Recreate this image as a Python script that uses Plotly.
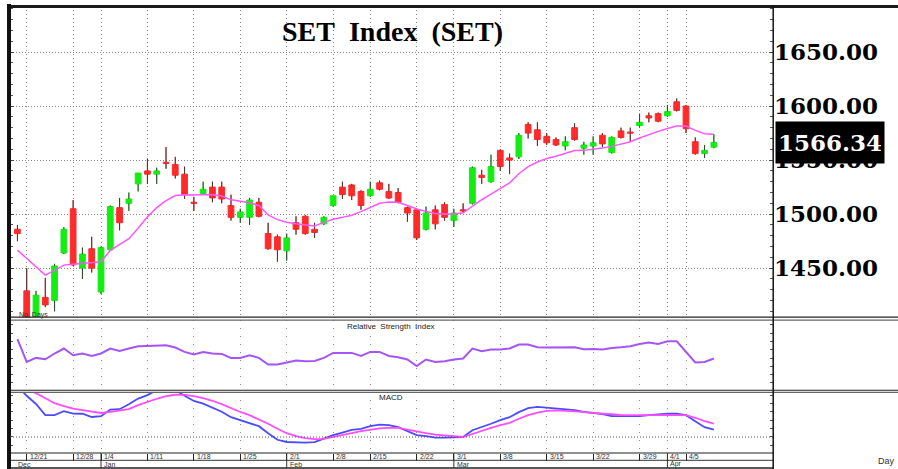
import plotly.graph_objects as go

# ---------------- data ----------------
dates = ["12/18", "12/21", "12/22", "12/23", "12/24", "12/25", "12/28", "12/29", "12/30",
         "1/4", "1/5", "1/6", "1/7", "1/8", "1/11", "1/12", "1/13", "1/14", "1/15",
         "1/18", "1/19", "1/20", "1/21", "1/22", "1/25", "1/26", "1/27", "1/28", "1/29",
         "2/1", "2/2", "2/3", "2/4", "2/5", "2/8", "2/9", "2/10", "2/11",
         "2/15", "2/16", "2/17", "2/18", "2/19", "2/22", "2/23", "2/24", "2/25",
         "3/1", "3/2", "3/3", "3/4", "3/5", "3/8", "3/9", "3/10", "3/11", "3/12",
         "3/15", "3/16", "3/17", "3/18", "3/19", "3/22", "3/23", "3/24", "3/25", "3/26",
         "3/29", "3/30", "3/31", "4/1", "4/2", "4/5", "4/7", "4/8", "4/9"]

open_ = [1486, 1429, 1405, 1423, 1420, 1464, 1505, 1450, 1468,
         1428, 1467, 1506, 1510, 1528, 1540, 1537, 1548, 1546, 1537,
         1511, 1519, 1525, 1525, 1508, 1497, 1497, 1511, 1482, 1479,
         1466, 1492, 1498, 1486, 1491, 1508, 1525, 1527, 1521,
         1517, 1529, 1521, 1520, 1506, 1504, 1486, 1504, 1509,
         1494, 1504, 1510, 1536, 1530, 1559, 1552, 1553, 1583, 1578,
         1572, 1569, 1563, 1580, 1561, 1563, 1573, 1557, 1577, 1576,
         1582, 1591, 1593, 1591, 1604, 1600, 1567, 1556, 1562]
high = [1490, 1450, 1429, 1441, 1454, 1488, 1513, 1469, 1479,
        1470, 1508, 1515, 1520, 1538, 1551, 1543, 1562, 1553, 1544,
        1516, 1530, 1530, 1530, 1518, 1505, 1515, 1515, 1492, 1481,
        1482, 1498, 1499, 1492, 1498, 1517, 1530, 1528, 1522,
        1530, 1531, 1528, 1524, 1507, 1505, 1507, 1508, 1511,
        1505, 1510, 1544, 1541, 1555, 1560, 1556, 1575, 1585, 1585,
        1575, 1571, 1572, 1584, 1567, 1572, 1575, 1572, 1580, 1580,
        1593, 1594, 1594, 1601, 1607, 1601, 1571, 1564, 1574]
low = [1475, 1400, 1402, 1414, 1410, 1463, 1452, 1440, 1446,
       1426, 1466, 1485, 1503, 1521, 1528, 1528, 1542, 1533, 1514,
       1503, 1518, 1511, 1510, 1494, 1492, 1490, 1497, 1467, 1456,
       1457, 1481, 1481, 1478, 1490, 1507, 1514, 1513, 1504,
       1516, 1522, 1514, 1510, 1493, 1476, 1485, 1486, 1494,
       1488, 1501, 1509, 1528, 1529, 1540, 1537, 1551, 1570, 1563,
       1564, 1563, 1559, 1568, 1555, 1555, 1562, 1556, 1570, 1567,
       1580, 1585, 1585, 1590, 1595, 1575, 1555, 1552, 1561]
close = [1482, 1404, 1425, 1416, 1452, 1486, 1453, 1463, 1450,
         1469, 1507, 1492, 1514, 1538, 1537, 1540, 1547, 1536, 1518,
         1510, 1523, 1515, 1514, 1497, 1502, 1513, 1498, 1468, 1467,
         1478, 1486, 1482, 1483, 1497, 1517, 1518, 1517, 1508,
         1523, 1523, 1515, 1511, 1501, 1478, 1501, 1491, 1497,
         1501, 1503, 1543, 1534, 1544, 1544, 1550, 1573, 1575, 1569,
         1566, 1564, 1567, 1569, 1564, 1566, 1565, 1571, 1571, 1575,
         1585, 1589, 1586, 1595, 1596, 1579, 1556, 1559, 1566.34]

ma = [1466.7, 1458.8, 1451.0, 1443.5, 1448.0, 1452.8, 1453.5, 1454.2, 1455.0,
      1456.0, 1466.5, 1471.7, 1477.2, 1487.0, 1497.6, 1506.0, 1512.5, 1517.2, 1518.0,
      1517.6, 1518.2, 1518.0, 1516.7, 1513.2, 1512.0, 1510.5, 1508.0, 1499.2, 1494.9,
      1492.5, 1491.0, 1489.8, 1489.0, 1492.4, 1495.3, 1497.0, 1499.0, 1502.3,
      1506.3, 1510.0, 1511.2, 1511.0, 1508.0, 1504.7, 1502.5, 1500.5, 1500.2,
      1500.2, 1501.2, 1507.5, 1513.3, 1518.6, 1523.8, 1529.0, 1537.4, 1544.0, 1548.2,
      1551.5, 1553.6, 1556.2, 1558.8, 1559.0, 1559.8, 1561.2, 1562.7, 1564.7, 1567.0,
      1570.5, 1573.7, 1576.6, 1579.3, 1581.6, 1581.6, 1577.5, 1574.4, 1573.8]

rsi = [72.2, 40.7, 46.3, 44.4, 52.4, 59.3, 50.0, 52.4, 49.0,
       52.4, 59.3, 56.0, 59.3, 62.5, 62.9, 62.9, 63.9, 60.7, 54.6,
       51.0, 54.6, 52.4, 51.8, 46.3, 46.3, 50.0, 46.3, 37.1, 37.1,
       39.9, 42.6, 41.7, 42.1, 46.3, 53.2, 53.2, 53.2, 49.0,
       54.6, 54.6, 49.0, 47.2, 44.0, 35.1, 44.0, 40.7, 41.7,
       44.0, 45.4, 59.3, 55.6, 57.9, 57.9, 59.3, 64.9, 64.9, 61.1,
       60.7, 60.7, 60.7, 61.1, 58.3, 58.8, 57.9, 60.1, 61.1, 62.5,
       65.7, 67.6, 65.7, 69.4, 69.4, 54.6, 39.9, 40.7, 45.4]

macd = [25.4, 20.6, 16.5, 10.9, 10.9, 12.9, 11.7, 11.6, 10.0,
        10.4, 13.7, 13.9, 16.4, 19.2, 20.9, 23.4, 24.4, 23.4, 20.6,
        18.0, 16.7, 14.7, 12.6, 9.9, 8.4, 7.1, 5.4, 1.9, -1.4,
        -2.5, -2.8, -2.8, -2.6, -0.9, 0.9, 2.2, 3.6, 4.1,
        5.4, 6.2, 5.9, 4.9, 3.1, 0.9, 0.4, -0.3, -0.3,
        -0.2, 0.0, 3.4, 4.9, 6.6, 8.4, 9.9, 12.4, 14.4, 15.0,
        14.6, 14.2, 13.7, 13.4, 12.6, 12.0, 11.4, 10.4, 10.4, 10.4,
        10.4, 10.9, 11.4, 11.7, 11.6, 10.9, 7.9, 4.9, 3.7]

signal = [26.0, 23.5, 21.9, 19.4, 16.9, 15.4, 14.2, 13.4, 12.6,
          12.0, 12.6, 13.2, 13.9, 15.9, 17.6, 19.1, 20.4, 21.1, 21.0,
          20.4, 19.4, 18.1, 16.4, 14.4, 12.5, 10.9, 8.9, 6.6, 4.1,
          1.9, 0.4, -0.6, -1.1, -0.9, 0.0, 1.1, 1.9, 2.9,
          3.6, 4.3, 4.6, 4.6, 3.7, 2.7, 1.9, 1.2, 0.8,
          0.4, 0.0, 1.5, 3.1, 4.6, 5.9, 7.1, 9.1, 10.9, 12.2,
          13.0, 13.3, 13.2, 12.8, 12.4, 12.0, 11.5, 11.1, 11.0, 10.9,
          10.9, 11.0, 11.1, 11.2, 11.0, 10.9, 9.6, 7.9, 6.7]

week_ticks = ["12/21", "12/28", "1/4", "1/11", "1/18", "1/25", "2/1", "2/8", "2/15",
              "2/22", "3/1", "3/8", "3/15", "3/22", "3/29", "4/1", "4/5"]
month_labels = ["Dec", "Jan", "Feb", "Mar", "Apr"]
month_starts = ["12/18", "1/4", "2/1", "3/1", "4/1"]
price_ticks = [1450, 1500, 1550, 1600, 1650]
last_price = close[-1]

# ---------------- layout helpers (pixel geometry) ----------------
W, H = 898, 469
L, R, T, B = 10, 773, 6, 452.7


def pxx(p):
    return (p - L) / (R - L)


def pyy(p):
    return (B - p) / (B - T)


xi = list(range(len(dates)))
week_x = [dates.index(d) for d in week_ticks]
month_x = [dates.index(d) for d in month_starts]

fig = go.Figure()

# candle bodies
fig.add_trace(go.Candlestick(
    x=xi, open=open_, high=high, low=low, close=close,
    xaxis="x2", yaxis="y",
    increasing=dict(fillcolor="#12ee12", line=dict(color="#12ee12", width=1)),
    decreasing=dict(fillcolor="#ff2a2a", line=dict(color="#ff2a2a", width=1)),
    whiskerwidth=0, hoverinfo="skip", showlegend=False))

# wicks (dark) built from the OHLC arrays
wx, wy = [], []
for i, (o, h, l, c) in enumerate(zip(open_, high, low, close)):
    lo, hi = min(o, c), max(o, c)
    wx += [i, i, None, i, i, None]
    wy += [l, lo, None, hi, h, None]
fig.add_trace(go.Scatter(x=wx, y=wy, xaxis="x2", yaxis="y", mode="lines",
                         line=dict(color="#3c3c3c", width=1), hoverinfo="skip",
                         showlegend=False))

fig.add_trace(go.Scatter(x=xi, y=ma, xaxis="x2", yaxis="y", mode="lines",
                         line=dict(color="#ff55ff", width=1.5), showlegend=False))

fig.add_trace(go.Scatter(x=xi, y=rsi, xaxis="x3", yaxis="y2", mode="lines",
                         line=dict(color="#a555f5", width=2), showlegend=False))

fig.add_trace(go.Scatter(x=xi, y=macd, xaxis="x", yaxis="y3", mode="lines",
                         line=dict(color="#4b4bff", width=1.8), showlegend=False))
fig.add_trace(go.Scatter(x=xi, y=signal, xaxis="x", yaxis="y3", mode="lines",
                         line=dict(color="#ff4dff", width=1.8), showlegend=False))

xr = [-0.8, (R - 17.4) / 9.286]

common_x = dict(range=xr, tickmode="array", tickvals=week_x, showticklabels=False,
                showgrid=True, gridcolor="#8a8a8a", gridwidth=1, zeroline=False,
                showline=False)

fig.update_layout(
    width=W, height=H,
    margin=dict(l=L, r=W - R, t=T, b=H - B, autoexpand=False),
    paper_bgcolor="white", plot_bgcolor="white",
    showlegend=False, boxgap=0.12,
    xaxis=dict(**common_x, anchor="y3", griddash="1px,7px",
               ticks="outside", ticklen=7, tickcolor="#222", tickwidth=1),
    xaxis2=dict(**common_x, anchor="y", matches="x", griddash="1px,3px",
                ticks="", rangeslider=dict(visible=False)),
    xaxis3=dict(**common_x, anchor="y2", matches="x", griddash="1px,7px", ticks=""),
    yaxis=dict(domain=[pyy(317), 1], range=[1404.6, 1692.6], side="right",
               anchor="x2", tickmode="array", tickvals=price_ticks,
               ticktext=[f"{v:.2f}" for v in price_ticks],
               tickfont=dict(family="DejaVu Serif", size=23, color="black",
                             weight="bold"),
               ticks="inside", ticklen=4, tickcolor="#444", mirror="ticks",
               showline=False, showgrid=True, gridcolor="#8a8a8a",
               griddash="1px,2px", zeroline=False,
               minor=dict(dtick=10, tick0=1400, ticks="inside", ticklen=3,
                          tickcolor="#555", showgrid=False)),
    yaxis2=dict(domain=[pyy(390), pyy(320)], range=[1.39, 98.6], anchor="x3",
                showticklabels=False, showgrid=False, zeroline=False,
                ticks="inside", ticklen=3, tickcolor="#555", tick0=0, dtick=11.5,
                mirror="ticks"),
    yaxis3=dict(domain=[0, pyy(392)], range=[-8, 22.35], anchor="x",
                showticklabels=False, showgrid=False, zeroline=False,
                tickmode="linear", tick0=0, dtick=4.17, ticks="inside",
                ticklen=3, tickcolor="#555", mirror="ticks"),
)

shapes = []


def hline(y, x0, x1, w=1, color="#111"):
    shapes.append(dict(type="line", xref="paper", yref="paper",
                       x0=pxx(x0), x1=pxx(x1), y0=pyy(y), y1=pyy(y),
                       line=dict(color=color, width=w)))


def vline(x, y0, y1, w=1, color="#111"):
    shapes.append(dict(type="line", xref="paper", yref="paper",
                       x0=pxx(x), x1=pxx(x), y0=pyy(y0), y1=pyy(y1),
                       line=dict(color=color, width=w)))


hline(6.5, 8, 898, 3, "#1a1a1a")
hline(317, 8, 898, 1.2, "#222")
hline(320, 8, 898, 1.2, "#666")
hline(390, 8, 898, 1.2, "#222")
hline(392.2, 8, 898, 1.2, "#666")
hline(452.7, 8, 773, 1.2, "#222")
hline(460, 8, 773, 1, "#333")
hline(467.6, 8, 773, 1.5, "#222")
vline(773.2, 5, 469, 1.5, "#111")
vline(9, 4, 469, 4, "#111")

# MACD zero line (dotted)
shapes.append(dict(type="line", xref="paper", yref="y3", x0=0, x1=1, y0=0, y1=0,
                   line=dict(color="#555", width=1, dash="1px,2px")))

# month separators in date band
for mx in month_x[1:]:
    shapes.append(dict(type="line", xref="x", yref="paper", x0=mx, x1=mx,
                       y0=pyy(452.7), y1=pyy(467.6),
                       line=dict(color="#333", width=1)))

annotations = []
small = dict(family="Liberation Sans", size=7, color="#333")
for lab, wxp in zip(week_ticks, week_x):
    annotations.append(dict(x=wxp, xref="x", y=pyy(456.5), yref="paper",
                            text=lab, showarrow=False, xanchor="left",
                            yanchor="middle", xshift=1, font=small))
for lab, mxp in zip(month_labels, month_x):
    annotations.append(dict(x=mxp, xref="x", y=pyy(464), yref="paper",
                            text=lab, showarrow=False, xanchor="left",
                            yanchor="middle", xshift=1 if lab != "Dec" else -1,
                            font=small))

annotations.append(dict(x=pxx(392), y=pyy(31.5), xref="paper", yref="paper",
                        text="SET\u00a0\u00a0Index\u00a0\u00a0(SET)", showarrow=False,
                        xanchor="center", yanchor="middle",
                        font=dict(family="Liberation Serif", size=28, color="black",
                                  weight="bold")))
annotations.append(dict(x=pxx(775), y=last_price, xref="paper", yref="y",
                        text=f"{last_price:.2f}", showarrow=False,
                        xanchor="left", yanchor="middle", bgcolor="black",
                        width=102, height=35, borderpad=3, align="center",
                        font=dict(family="DejaVu Serif", size=23, color="white",
                                  weight="bold")))
annotations.append(dict(x=pxx(390.5), y=pyy(326), xref="paper", yref="paper",
                        text="Relative\u00a0 Strength\u00a0 Index", showarrow=False,
                        xanchor="center", yanchor="middle",
                        font=dict(family="Liberation Sans", size=8, color="#222")))
annotations.append(dict(x=pxx(391), y=pyy(397.5), xref="paper", yref="paper",
                        text="MACD", showarrow=False, xanchor="center",
                        yanchor="middle",
                        font=dict(family="Liberation Sans", size=8, color="#222")))
annotations.append(dict(x=pxx(17), y=pyy(314.5), xref="paper", yref="paper",
                        text="No. Days", showarrow=False, xanchor="left",
                        yanchor="middle", font=small))
annotations.append(dict(x=pxx(897), y=pyy(460.5), xref="paper", yref="paper",
                        text="Day", showarrow=False, xanchor="right",
                        yanchor="middle",
                        font=dict(family="Liberation Sans", size=9, color="#333")))

fig.update_layout(shapes=shapes, annotations=annotations)

fig.write_html("out.html",
               config={"displayModeBar": False, "staticPlot": True},
               post_script="document.body.style.margin='0px';"
                           "document.body.style.overflow='hidden';")
